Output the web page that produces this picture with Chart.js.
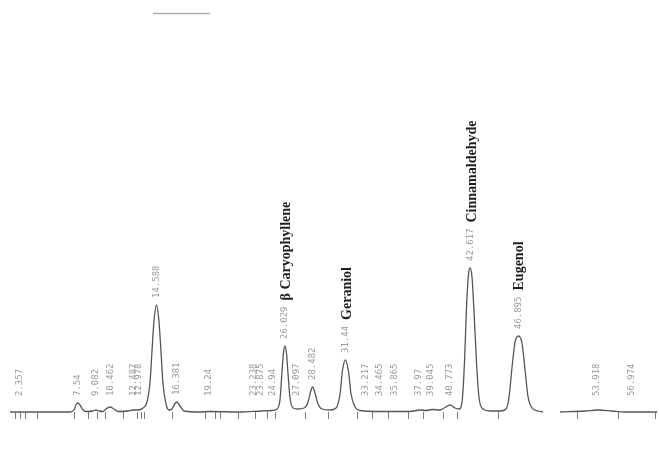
<!DOCTYPE html>
<html>
<head>
<meta charset="utf-8">
<script src="https://cdn.jsdelivr.net/npm/chart.js@4.4.1/dist/chart.umd.min.js"></script>
<style>
  html, body { margin: 0; padding: 0; background: #ffffff; }
  canvas { display: block; }
</style>
</head>
<body>
<canvas id="chrom" width="659" height="450"></canvas>
<script>
// Detector trace: retention time (min) and signal above baseline (arbitrary units).
// A null entry marks the break in the recorder trace.
const traceTimes = [
  1.47, 6.83, 7.18, 7.36, 7.54, 7.72, 7.99, 8.26, 8.88, 9.15, 9.42, 9.78,
  10.04, 10.40, 10.76, 11.12, 12.01, 12.46, 12.90, 13.35, 13.71, 13.98,
  14.16, 14.34, 14.56, 14.78, 14.96, 15.14, 15.41, 15.67, 15.94, 16.17,
  16.39, 16.66, 17.02, 18.44, 19.25, 22.02, 23.99, 24.88, 25.32, 25.59,
  25.77, 25.91, 26.04, 26.18, 26.31, 26.49, 26.76, 27.20, 27.74, 28.10,
  28.32, 28.50, 28.72, 28.99, 29.35, 30.06, 30.60, 30.96, 31.18, 31.45,
  31.72, 31.94, 32.30, 32.74, 34.53, 37.21, 38.11, 38.64, 39.18, 39.89,
  40.34, 40.79, 41.23, 41.59, 41.86, 42.08, 42.26, 42.44, 42.57, 42.75,
  42.93, 43.16, 43.38, 43.74, 44.37, 45.26, 45.79, 46.06, 46.33, 46.60,
  46.91, 47.23, 47.49, 47.76, 48.12, 48.65, 49.10, 49.80, 50.62, 52.85,
  54.01, 55.26, 56.42, 59.30
];
const traceSignal = [
  0, 0, 2, 7, 9, 7, 2, 0.5, 1, 2, 1, 0.5,
  3, 5, 3, 0.5, 1, 2, 2, 4, 10, 30,
  62, 92, 107, 90, 60, 28, 8, 2, 3, 8,
  10, 6, 1, 0, 0.5, 0, 1, 1.5, 3, 12,
  40, 60, 66, 58, 38, 14, 4, 3, 4, 10,
  20, 25, 19, 8, 3, 2, 4, 18, 42, 52,
  40, 18, 5, 1.5, 0.5, 0.5, 2, 1.5, 2.5, 2,
  4.5, 7, 4, 3, 10, 50, 105, 138, 144, 135,
  100, 48, 14, 3, 1, 1, 3, 15, 45, 70,
  76, 68, 42, 15, 4, 1, 0, null, 0, 1,
  2, 1, 0, 0
];

// Integrator event marks along the baseline (min)
const eventMarks = [
  1.91, 2.36, 2.81, 3.88, 7.18, 8.44, 9.24, 9.96, 11.56, 12.82, 13.17,
  13.44, 15.94, 18.89, 19.79, 20.23, 21.84, 23.36, 24.43, 25.15, 27.83,
  29.88, 32.47, 33.82, 35.25, 37.03, 38.37, 40.16, 41.41, 45.08, 52.14,
  55.80, 59.11
];

// Printed retention times
const peakTimes = [
  2.357, 7.54, 9.082, 10.462, 12.487, 12.978, 14.588, 16.381, 19.24,
  23.238, 23.875, 24.94, 26.029, 27.097, 28.482, 31.44, 33.217, 34.465,
  35.865, 37.97, 39.045, 40.773, 42.617, 46.895, 53.918, 56.974
];
const peakLabels = [
  '2.357', '7.54', '9.082', '10.462', '12.487', '12.978', '14.588', '16.381', '19.24',
  '23.238', '23.875', '24.94', '26.029', '27.097', '28.482', '31.44', '33.217', '34.465',
  '35.865', '37.97', '39.045', '40.773', '42.617', '46.895', '53.918', '56.974'
];

// Identified compounds
const compoundTimes = [26.029, 31.44, 42.617, 46.895];
const compoundNames = ['β Caryophyllene', 'Geraniol', 'Cinnamaldehyde', 'Eugenol'];

const tracePoints = traceTimes.map((t, i) => ({ x: t, y: traceSignal[i] }));

function apexNear(t) {
  let m = 0;
  traceTimes.forEach((tt, i) => {
    if (Math.abs(tt - t) <= 0.35 && traceSignal[i] !== null) m = Math.max(m, traceSignal[i]);
  });
  return m;
}

const annotate = {
  id: 'annotate',
  afterDatasetsDraw(chart) {
    const ctx = chart.ctx;
    const xs = chart.scales.x, ys = chart.scales.y;

    // faint rule at the head of the recorder sheet
    ctx.save();
    ctx.strokeStyle = 'rgba(110,110,110,0.55)';
    ctx.lineWidth = 1.5;
    ctx.beginPath();
    ctx.moveTo(153, 13.5);
    ctx.lineTo(210, 13.5);
    ctx.stroke();
    ctx.restore();

    // event ticks below the baseline
    ctx.save();
    ctx.strokeStyle = '#7a7a7a';
    ctx.lineWidth = 1;
    ctx.beginPath();
    const y0 = ys.getPixelForValue(0), y1 = ys.getPixelForValue(-7);
    eventMarks.forEach(t => {
      const px = Math.round(xs.getPixelForValue(t)) + 0.5;
      ctx.moveTo(px, y0);
      ctx.lineTo(px, y1);
    });
    ctx.stroke();
    ctx.restore();

    // retention time labels, rotated
    const labelTop = {};
    ctx.save();
    ctx.font = '9px "DejaVu Sans Mono", monospace';
    ctx.fillStyle = '#9b9b9b';
    ctx.textAlign = 'left';
    ctx.textBaseline = 'middle';
    peakTimes.forEach((t, i) => {
      const px = xs.getPixelForValue(t);
      const bottom = Math.min(ys.getPixelForValue(apexNear(t)) - 7, 396);
      const w = ctx.measureText(peakLabels[i]).width;
      ctx.save();
      ctx.translate(px, bottom);
      ctx.rotate(-Math.PI / 2);
      ctx.fillText(peakLabels[i], 0, 0);
      ctx.restore();
      labelTop[t] = bottom - w;
    });
    ctx.restore();

    // compound names above their retention labels
    ctx.save();
    ctx.font = 'bold 14px "Liberation Serif", "Times New Roman", serif';
    ctx.fillStyle = '#1e1e1e';
    ctx.textAlign = 'left';
    ctx.textBaseline = 'middle';
    compoundTimes.forEach((t, i) => {
      const px = xs.getPixelForValue(t) + 1.5;
      const bottom = labelTop[t] - 6;
      ctx.save();
      ctx.translate(px, bottom);
      ctx.rotate(-Math.PI / 2);
      ctx.fillText(compoundNames[i], 0, 0);
      ctx.restore();
    });
    ctx.restore();
  }
};

new Chart(document.getElementById('chrom'), {
  type: 'line',
  data: {
    datasets: [{
      data: tracePoints,
      borderColor: '#555555',
      borderWidth: 1.3,
      pointRadius: 0,
      fill: false,
      spanGaps: false,
      cubicInterpolationMode: 'monotone'
    }]
  },
  options: {
    responsive: false,
    animation: false,
    layout: { padding: { left: 0, right: 0, top: 0, bottom: 25 } },
    plugins: { legend: { display: false }, tooltip: { enabled: false } },
    scales: {
      x: { type: 'linear', min: 0.572, max: 59.46, display: false },
      y: { type: 'linear', min: -13, max: 412, display: false }
    }
  },
  plugins: [annotate]
});
</script>
</body>
</html>
